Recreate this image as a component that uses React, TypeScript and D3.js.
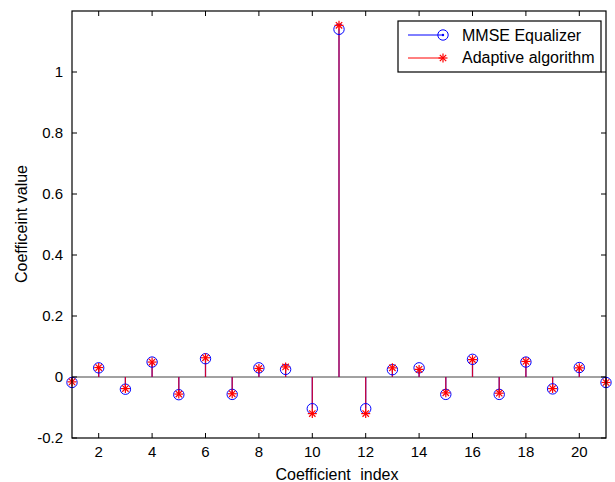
import React from 'react';
import * as d3 from 'd3';

// coefficient index 1..21
const indices = d3.range(1, 22);

// MMSE equalizer taps (blue circles)
const mmseValues = [
  -0.018, 0.03, -0.04, 0.049, -0.058, 0.06, -0.057, 0.03, 0.025, -0.104,
  1.14, -0.104, 0.024, 0.03, -0.057, 0.058, -0.057, 0.049, -0.039, 0.031, -0.018,
];

// adaptive algorithm taps (red stars)
const adaptiveValues = [
  -0.016, 0.031, -0.038, 0.049, -0.056, 0.063, -0.055, 0.028, 0.033, -0.12,
  1.153, -0.12, 0.03, 0.025, -0.052, 0.057, -0.053, 0.051, -0.038, 0.03, -0.018,
];

const xTicks = [2, 4, 6, 8, 10, 12, 14, 16, 18, 20];
const yTicks = [-0.2, 0, 0.2, 0.4, 0.6, 0.8, 1];

const legendLabels = ['MMSE Equalizer', 'Adaptive algorithm'];

const FONT = 'Arial, "Liberation Sans", Helvetica, sans-serif';

const Star = ({ x, y, r, color }: { x: number; y: number; r: number; color: string }) => {
  const d = r * 0.707;
  return (
    <g stroke={color} strokeWidth={1.2}>
      <line x1={x - r} y1={y} x2={x + r} y2={y} />
      <line x1={x} y1={y - r} x2={x} y2={y + r} />
      <line x1={x - d} y1={y - d} x2={x + d} y2={y + d} />
      <line x1={x - d} y1={y + d} x2={x + d} y2={y - d} />
    </g>
  );
};

const App = () => {
  const width = 615;
  const height = 482;
  const margin = { top: 11, right: 9, bottom: 44, left: 72 };
  const innerW = width - margin.left - margin.right;
  const innerH = height - margin.top - margin.bottom;

  const x = d3.scaleLinear().domain([1, 21]).range([margin.left, margin.left + innerW]);
  const y = d3.scaleLinear().domain([-0.2, 1.2]).range([margin.top + innerH, margin.top]);

  const left = margin.left;
  const right = margin.left + innerW;
  const top = margin.top;
  const bottom = margin.top + innerH;
  const tickLen = 5;

  return (
    <svg
      width={width}
      height={height}
      style={{ position: 'absolute', left: 0, top: 0, background: '#fff' }}
      fontFamily={FONT}
    >
      {/* baseline at zero */}
      <line x1={left} x2={right} y1={y(0)} y2={y(0)} stroke="#444" strokeWidth={1} />

      {/* MMSE stems */}
      {indices.map((k, i) => (
        <line key={'bs' + k} x1={x(k)} x2={x(k)} y1={y(0)} y2={y(mmseValues[i])} stroke="#0000ff" strokeWidth={1.2} />
      ))}
      {/* adaptive stems */}
      {indices.map((k, i) => (
        <line key={'rs' + k} x1={x(k)} x2={x(k)} y1={y(0)} y2={y(adaptiveValues[i])} stroke="#ff0000" strokeWidth={1.2} opacity={0.8} />
      ))}
      {indices.map((k, i) => (
        <circle key={'bc' + k} cx={x(k)} cy={y(mmseValues[i])} r={5.2} fill="none" stroke="#0000ff" strokeWidth={1} />
      ))}
      {indices.map((k, i) => (
        <Star key={'rm' + k} x={x(k)} y={y(adaptiveValues[i])} r={4.5} color="#ff0000" />
      ))}

      {/* axes box */}
      <rect x={left} y={top} width={innerW} height={innerH} fill="none" stroke="#000" strokeWidth={1.2} />

      {/* x ticks */}
      {xTicks.map((t) => (
        <g key={'xt' + t}>
          <line x1={x(t)} x2={x(t)} y1={bottom} y2={bottom - tickLen} stroke="#000" />
          <line x1={x(t)} x2={x(t)} y1={top} y2={top + tickLen} stroke="#000" />
          <text x={x(t)} y={bottom + 19} textAnchor="middle" fontSize={15}>
            {t}
          </text>
        </g>
      ))}

      {/* y ticks */}
      {yTicks.map((t) => (
        <g key={'yt' + t}>
          <line x1={left} x2={left + tickLen} y1={y(t)} y2={y(t)} stroke="#000" />
          <line x1={right} x2={right - tickLen} y1={y(t)} y2={y(t)} stroke="#000" />
          <text x={left - 9} y={y(t) + 5} textAnchor="end" fontSize={15}>
            {t}
          </text>
        </g>
      ))}

      {/* axis labels */}
      <text x={337} y={480} textAnchor="middle" fontSize={16} wordSpacing={5}>
        Coefficient index
      </text>
      <text transform="translate(27,224) rotate(-90)" textAnchor="middle" fontSize={16}>
        Coefficeint value
      </text>

      {/* legend */}
      <g>
        <rect x={398} y={21} width={203} height={51} fill="#fff" stroke="#000" strokeWidth={1.2} />
        <line x1={408} x2={443} y1={35} y2={35} stroke="#0000ff" />
        <circle cx={443} cy={35} r={5.2} fill="none" stroke="#0000ff" />
        <circle cx={443} cy={35} r={1.2} fill="#0000ff" />
        <text x={462} y={41} fontSize={16}>
          {legendLabels[0]}
        </text>
        <line x1={408} x2={443} y1={58} y2={58} stroke="#ff0000" />
        <Star x={443} y={58} r={4.5} color="#ff0000" />
        <text x={462} y={63} fontSize={16}>
          {legendLabels[1]}
        </text>
      </g>
    </svg>
  );
};

export default App;
